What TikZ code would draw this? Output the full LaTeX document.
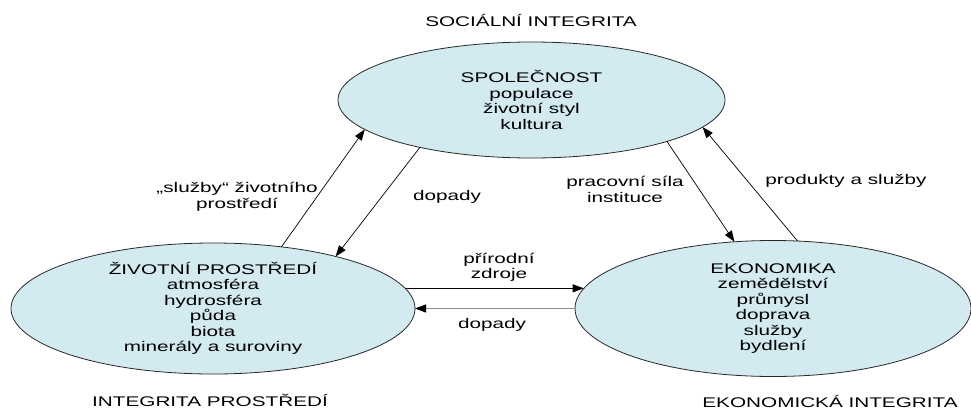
\documentclass[tikz,border=0pt]{standalone}
\usepackage{fontspec}
\setmainfont{Liberation Sans}[FakeStretch=1.48]
\usetikzlibrary{arrows.meta,shapes.geometric}
\definecolor{ellfill}{RGB}{210,234,240}
\definecolor{ellline}{RGB}{40,40,40}
\begin{document}
\begin{tikzpicture}[x=1pt,y=-1pt,
  font=\fontsize{14}{15.5}\selectfont,
  sphere/.style={ellipse, draw=ellline, line width=0.8pt, fill=ellfill,
    inner sep=0pt, outer sep=0pt, align=center},
  lbl/.style={align=center, inner sep=0pt},
  title/.style={inner sep=0pt, anchor=base},
  flow/.style={line width=0.7pt, -{Triangle[length=11pt,width=8pt]}},
  flowgray/.style={line width=0.9pt, draw=black!45,
    -{Triangle[length=11pt,width=8pt,color=black]}}]
\useasboundingbox (0,0) rectangle (971,410);

% the three spheres
\node[sphere, minimum width=387pt, minimum height=116pt] (soc) at (531.5,100)
  {SPOLEČNOST\\populace\\životní styl\\kultura};
\node[sphere, minimum width=404pt, minimum height=130pt] (env) at (213,308.5)
  {ŽIVOTNÍ PROSTŘEDÍ\\atmosféra\\hydrosféra\\půda\\biota\\minerály a suroviny};
\node[sphere, minimum width=396pt, minimum height=136pt] (eco) at (773,308.5)
  {EKONOMIKA\\zemědělství\\průmysl\\doprava\\služby\\bydlení};

% sphere titles
\node[title] (tsoc) at (531,26.5) {SOCIÁLNÍ INTEGRITA};
\node[title] (tenv) at (210,406.5) {INTEGRITA PROSTŘEDÍ};
\node[title] (teco) at (830,407.5) {EKONOMICKÁ INTEGRITA};

% flows between spheres
\draw[flow] (env.42) -- (soc.190);
\draw[flow] (soc.203) -- (env.23);
\draw[flow] (soc.343) -- (eco.120);
\draw[flow] (eco.70) -- (soc.351);
\draw[flow] (env.6) -- (env.6 -| eco.174);
\draw[flowgray] (eco.west) -- (eco.west -| env.east);

% flow labels
\node[lbl] (lsluzby) at (237,197) {„služby“ životního\\prostředí};
\node[lbl] (ldop1) at (447,197) {dopady};
\node[lbl] (lprac) at (625,189.5) {pracovní síla\\instituce};
\node[lbl] (lprod) at (846,181) {produkty a služby};
\node[lbl] (lzdr) at (499,267.5) {přírodní\\zdroje};
\node[lbl] (ldop2) at (492,325) {dopady};
\end{tikzpicture}
\end{document}
